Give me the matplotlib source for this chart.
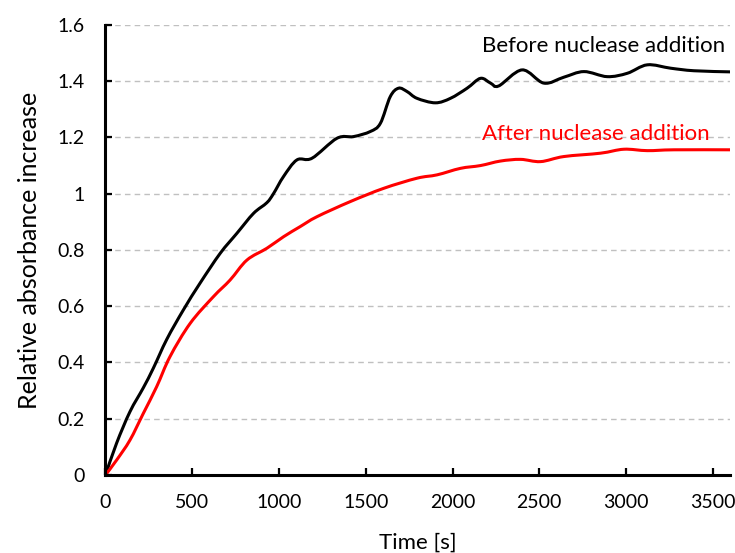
import matplotlib
matplotlib.use('Agg')
from matplotlib import pyplot as plt
from matplotlib.path import Path
from matplotlib.patches import PathPatch

plt.rcParams['font.family'] = ['Lato', 'DejaVu Sans']

# Before nuclease addition (black)
before_t = [0, 64, 141, 218, 276, 353, 449, 545, 661, 757, 853, 930, 968, 1026,
            1103, 1190, 1334, 1430, 1526, 1584, 1641, 1689, 1738, 1795, 1901, 1988,
            2084, 2161, 2219, 2266, 2401, 2526, 2641, 2757, 2891, 3007, 3122, 3257,
            3391, 3600]
before_v = [0, 0.113, 0.225, 0.31, 0.38, 0.482, 0.587, 0.682, 0.788, 0.859, 0.93,
            0.968, 1.0, 1.061, 1.12, 1.126, 1.197, 1.203, 1.221, 1.25, 1.345, 1.375,
            1.363, 1.339, 1.323, 1.339, 1.375, 1.41, 1.393, 1.383, 1.44, 1.393, 1.414,
            1.434, 1.416, 1.428, 1.458, 1.446, 1.437, 1.433]

# After nuclease addition (red)
after_t = [0, 64, 141, 218, 295, 372, 488, 622, 718, 815, 930, 1026, 1122, 1218,
           1411, 1603, 1795, 1911, 2045, 2161, 2276, 2392, 2507, 2641, 2853, 2987,
           3122, 3276, 3600]
after_v = [0, 0.053, 0.124, 0.219, 0.314, 0.421, 0.539, 0.634, 0.693, 0.764, 0.806,
           0.847, 0.883, 0.918, 0.972, 1.019, 1.055, 1.067, 1.09, 1.1, 1.116, 1.122,
           1.114, 1.132, 1.144, 1.158, 1.153, 1.156, 1.156]

x_ticks = [0, 500, 1000, 1500, 2000, 2500, 3000, 3500]
y_ticks = [0, 0.2, 0.4, 0.6, 0.8, 1.0, 1.2, 1.4, 1.6]
y_labels = ['0', '0.2', '0.4', '0.6', '0.8', '1', '1.2', '1.4', '1.6']


def smooth_path(xs, ys):
    # Catmull-Rom style bezier through the points, like Excel's smoothed line
    verts = [(xs[0], ys[0])]
    codes = [Path.MOVETO]
    n = len(xs)
    for i in range(n - 1):
        x0, y0 = xs[max(i - 1, 0)], ys[max(i - 1, 0)]
        x1, y1 = xs[i], ys[i]
        x2, y2 = xs[i + 1], ys[i + 1]
        x3, y3 = xs[min(i + 2, n - 1)], ys[min(i + 2, n - 1)]
        c1 = (x1 + (x2 - x0) / 6, y1 + (y2 - y0) / 6)
        c2 = (x2 - (x3 - x1) / 6, y2 - (y3 - y1) / 6)
        verts += [c1, c2, (x2, y2)]
        codes += [Path.CURVE4] * 3
    return Path(verts, codes)


fig = plt.figure(figsize=(7.35, 5.53), dpi=100)
ax = fig.add_axes([0.1435, 0.141, 0.85, 0.814])

for y in y_ticks[1:]:
    ax.axhline(y, color='#c0c0c0', lw=1, ls=(0, (4, 3)), zorder=0)

ax.add_patch(PathPatch(smooth_path(before_t, before_v), fill=False,
                       edgecolor='black', lw=2.2, capstyle='round'))
ax.add_patch(PathPatch(smooth_path(after_t, after_v), fill=False,
                       edgecolor='#ff0000', lw=2.2, capstyle='round'))

ax.text(2172, 1.504, 'Before nuclease addition', color='black', fontsize=16,
        va='baseline', ha='left')
ax.text(2172, 1.191, 'After nuclease addition', color='#ff0000', fontsize=16,
        va='baseline', ha='left')

ax.set_xlim(0, 3600)
ax.set_ylim(0, 1.6)
ax.set_xticks(x_ticks)
ax.set_yticks(y_ticks)
ax.set_yticklabels(y_labels)
ax.tick_params(direction='in', length=5, width=1.6, labelsize=14, colors='black')
ax.tick_params(axis='x', pad=14)
ax.tick_params(axis='y', pad=15)
for s in ['top', 'right']:
    ax.spines[s].set_visible(False)
for s in ['left', 'bottom']:
    ax.spines[s].set_linewidth(2.2)

ax.set_xlabel('Time [s]', fontsize=16, labelpad=15)
ax.set_ylabel('Relative absorbance increase', fontsize=18, labelpad=12)

fig.savefig('out.png', dpi=100)
